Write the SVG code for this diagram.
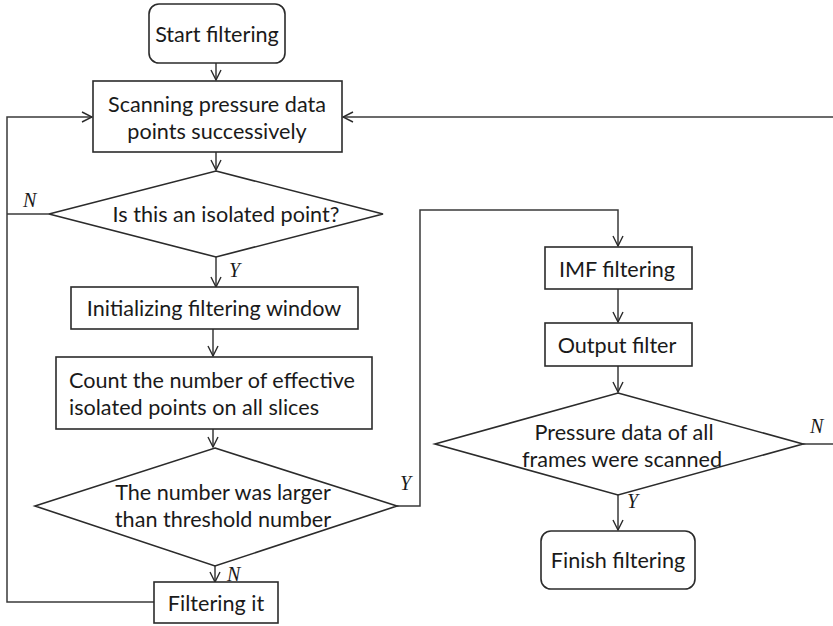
<svg xmlns="http://www.w3.org/2000/svg" width="833" height="626" viewBox="0 0 833 626">
  <style>
    .box { fill: #ffffff; stroke: #2b2b2b; stroke-width: 1.6; }
    .txt { font-family: Lato, "Liberation Sans", sans-serif; font-size: 21.6px; fill: #1a1a1a; text-anchor: middle; dominant-baseline: central; }
    .left { text-anchor: start; }
    .lbl { font-family: "Liberation Serif", serif; font-style: italic; font-size: 20px; fill: #1a1a1a; }
    .wire { fill: none; stroke: #3a3a3a; stroke-width: 1.5; }
  </style>
  <defs>
    <marker id="arrow" viewBox="0 0 12 12" refX="11" refY="6" markerWidth="12" markerHeight="12" markerUnits="userSpaceOnUse" orient="auto">
      <path d="M1,1 L11,6 L1,11" fill="none" stroke="#2b2b2b" stroke-width="1.4"/>
    </marker>
  </defs>
  <rect width="833" height="626" fill="#ffffff"/>

  <g id="connectors">
    <path class="wire" d="M216,63 V80" marker-end="url(#arrow)"/>
    <path class="wire" d="M216,152 V170" marker-end="url(#arrow)"/>
    <path class="wire" d="M216,257 V287" marker-end="url(#arrow)"/>
    <path class="wire" d="M213,329 V356" marker-end="url(#arrow)"/>
    <path class="wire" d="M213,429 V447" marker-end="url(#arrow)"/>
    <path class="wire" d="M215,566 V582" marker-end="url(#arrow)"/>
    <!-- left feedback loop -->
    <path class="wire" d="M154,602 H7 V117 H92" marker-end="url(#arrow)"/>
    <path class="wire" d="M49,214 H7"/>
    <!-- yes branch to IMF -->
    <path class="wire" d="M397,506 H420 V210 H618 V246" marker-end="url(#arrow)"/>
    <path class="wire" d="M618,289 V322" marker-end="url(#arrow)"/>
    <path class="wire" d="M618,366 V392" marker-end="url(#arrow)"/>
    <path class="wire" d="M618,495 V530" marker-end="url(#arrow)"/>
    <!-- right feedback loop -->
    <path class="wire" d="M803,444 H833"/>
    <path class="wire" d="M833,117 H343" marker-end="url(#arrow)"/>
  </g>

  <g id="start">
    <rect class="box" x="149" y="4" width="136" height="59" rx="10"/>
    <text class="txt" x="217" y="34">Start filtering</text>
  </g>
  <g id="scan">
    <rect class="box" x="93" y="81" width="249" height="71"/>
    <text class="txt" x="217" y="104">Scanning pressure data</text>
    <text class="txt" x="217" y="131">points successively</text>
  </g>
  <g id="isolated">
    <polygon class="box" points="216,171 383,214 216,257 49,214"/>
    <text class="txt" x="226" y="214">Is this an isolated point?</text>
  </g>
  <g id="init">
    <rect class="box" x="71" y="287" width="287" height="42"/>
    <text class="txt" x="214" y="308">Initializing filtering window</text>
  </g>
  <g id="count">
    <rect class="box" x="56" y="357" width="316" height="72"/>
    <text class="txt left" x="69" y="380">Count the number of effective</text>
    <text class="txt left" x="69" y="407">isolated points on all slices</text>
  </g>
  <g id="threshold">
    <polygon class="box" points="215,448 397,506 215,566 35,506"/>
    <text class="txt" x="223" y="492">The number was larger</text>
    <text class="txt" x="223" y="519">than threshold number</text>
  </g>
  <g id="filter-it">
    <rect class="box" x="154" y="582" width="124" height="41"/>
    <text class="txt" x="216" y="603">Filtering it</text>
  </g>
  <g id="imf">
    <rect class="box" x="545" y="247" width="147" height="42"/>
    <text class="txt" x="617" y="269">IMF filtering</text>
  </g>
  <g id="output">
    <rect class="box" x="545" y="323" width="147" height="43"/>
    <text class="txt" x="617" y="345">Output filter</text>
  </g>
  <g id="all-frames">
    <polygon class="box" points="618,393 803,444 618,495 435,444"/>
    <text class="txt" x="624" y="432">Pressure data of all</text>
    <text class="txt" x="622" y="459">frames were scanned</text>
  </g>
  <g id="finish">
    <rect class="box" x="541" y="531" width="154" height="58" rx="10"/>
    <text class="txt" x="618" y="560">Finish filtering</text>
  </g>

  <g id="labels">
    <text class="lbl" x="23" y="207">N</text>
    <text class="lbl" x="229" y="277">Y</text>
    <text class="lbl" x="400" y="490">Y</text>
    <text class="lbl" x="227" y="581">N</text>
    <text class="lbl" x="810" y="433">N</text>
    <text class="lbl" x="627" y="508">Y</text>
  </g>
</svg>
